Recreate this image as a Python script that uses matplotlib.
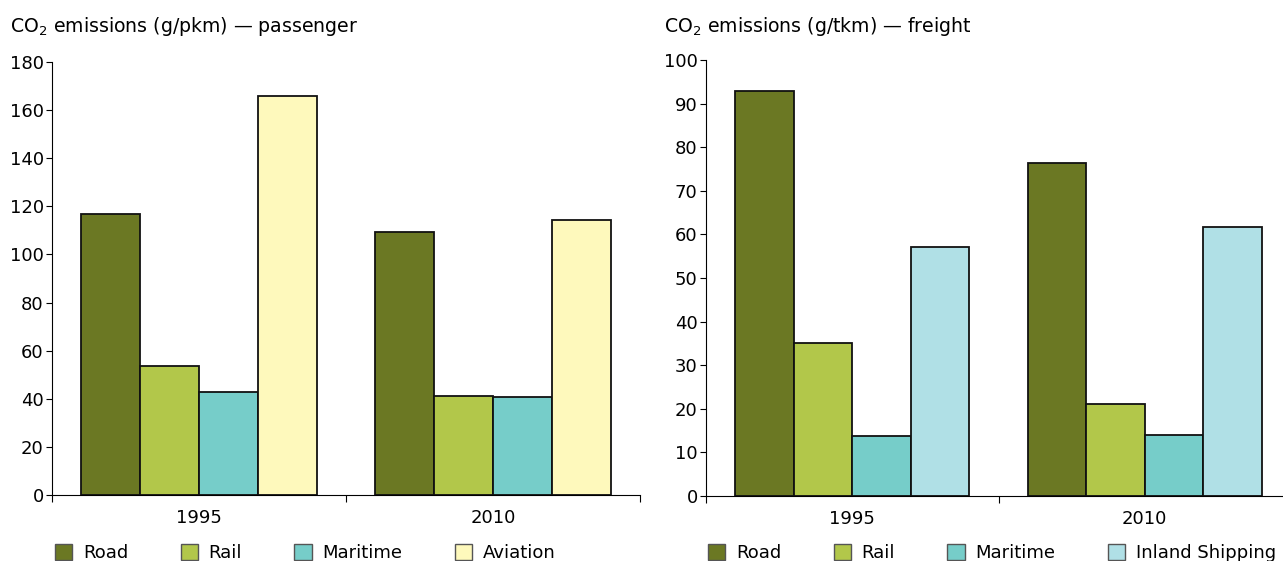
import numpy as np
import matplotlib
matplotlib.use('Agg')
import matplotlib.pyplot as plt
from matplotlib.patches import Patch

years = ['1995', '2010']

pass_modes = ['Road', 'Rail', 'Maritime', 'Aviation']
pass_values = {
    'Road': [117, 109.5],
    'Rail': [53.7, 41.3],
    'Maritime': [42.8, 40.8],
    'Aviation': [166, 114.5],
}

freight_modes = ['Road', 'Rail', 'Maritime', 'Inland Shipping']
freight_values = {
    'Road': [93, 76.3],
    'Rail': [35.1, 21.1],
    'Maritime': [13.8, 14.0],
    'Inland Shipping': [57.2, 61.6],
}

colors = {
    'Road': '#6b7823',
    'Rail': '#b2c74a',
    'Maritime': '#76cdc9',
    'Aviation': '#fef9bc',
    'Inland Shipping': '#b0e0e6',
}

plt.rcParams['font.family'] = 'DejaVu Sans'
plt.rcParams['font.size'] = 13

W, H = 1283, 561
fig = plt.figure(figsize=(W/100, H/100), dpi=100)
ax1 = fig.add_axes([52/W, 1-495/H, 588/W, 433/H])
ax2 = fig.add_axes([706/W, 1-496/H, 585/W, 436/H])


def draw(ax, modes, values, ymax, step, title, tx, lx):
    x = np.arange(len(years))
    w = 0.2
    for i, m in enumerate(modes):
        ax.bar(x - 0.3 + i*w, values[m], width=w, color=colors[m],
               edgecolor='#111111', linewidth=1.3)
    ax.set_xlim(-0.5, 1.5)
    ax.set_ylim(0, ymax)
    ax.set_yticks(np.arange(0, ymax + 1, step))
    ax.set_xticks([-0.5, 0.5, 1.5])
    ax.set_xticklabels([])
    ax.set_xticks(x, minor=True)
    ax.set_xticklabels(years, minor=True)
    ax.tick_params(axis='x', which='minor', length=0, pad=10)
    ax.tick_params(axis='x', which='major', length=5, direction='out')
    ax.tick_params(axis='y', length=4, direction='out', pad=2)
    for s in ['top', 'right']:
        ax.spines[s].set_visible(False)
    handles = [Patch(facecolor=colors[m], edgecolor='#555555', label=m) for m in modes]
    fig.legend(handles=handles, loc='center left', bbox_to_anchor=(lx/W, 8/H),
               ncol=4, frameon=False, handlelength=0.95, handleheight=0.95,
               columnspacing=2.9, handletextpad=0.6, borderpad=0,
               borderaxespad=0)
    fig.text(tx/W, 1-27/H, title, ha='left', va='center', fontsize=13.6)


draw(ax1, pass_modes, pass_values, 180, 20,
     r'CO$_2$ emissions (g/pkm) — passenger', 10, 55)
draw(ax2, freight_modes, freight_values, 100, 10,
     r'CO$_2$ emissions (g/tkm) — freight', 664, 708)

fig.savefig('out.png', dpi=100)
